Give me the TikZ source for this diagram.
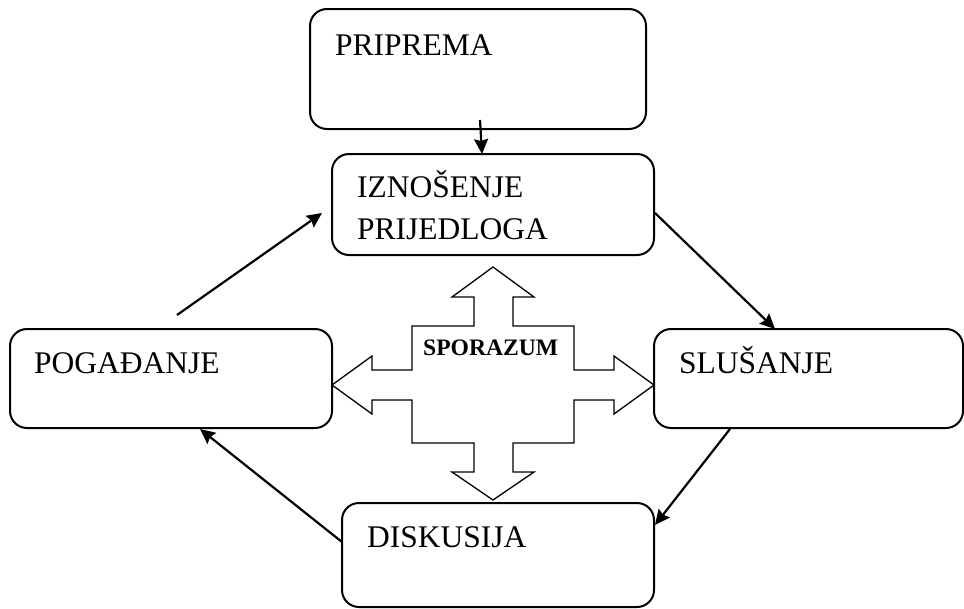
\documentclass[tikz,border=0pt]{standalone}
\usepackage{fontspec}
\setmainfont{Liberation Serif}
\usetikzlibrary{arrows.meta}
\begin{document}
\begin{tikzpicture}[x=1pt,y=-1pt,
  box/.style={draw,line width=2pt,rounded corners=17pt,inner sep=0pt},
  lbl/.style={anchor=base west,inner sep=0pt,font=\fontsize{31.5}{42}\selectfont},
  arr/.style={line width=2.2pt,-{Stealth[length=15pt,width=14pt,inset=2pt]}},
  cross/.style={draw,line width=1.3pt,fill=white}]
\useasboundingbox (0,0) rectangle (964,608);
% boxes
\node[box,minimum width=336pt,minimum height=120pt] (prip) at (478,69) {};
\node[box,minimum width=322pt,minimum height=101pt] (izn) at (493,204.5) {};
\node[box,minimum width=322pt,minimum height=99pt] (pog) at (171,378.5) {};
\node[box,minimum width=309pt,minimum height=99pt] (slu) at (808.5,378.5) {};
\node[box,minimum width=312pt,minimum height=104pt] (dis) at (498,555) {};
% labels
\node[lbl] (tprip) at (335,55) {PRIPREMA};
\node[lbl] (tizn1) at (357,197) {IZNOŠENJE};
\node[lbl] (tizn2) at (357,239) {PRIJEDLOGA};
\node[lbl] (tpog) at (34,373) {POGAĐANJE};
\node[lbl] (tslu) at (679,373) {SLUŠANJE};
\node[lbl] (tdis) at (367,547) {DISKUSIJA};
% cross arrow
\draw[cross] (493,267) -- (534,297) -- (513,297) -- (513,326) -- (574,326) -- (574,370)
  -- (614,370) -- (614,356) -- (654,385) -- (614,414) -- (614,400) -- (574,400)
  -- (574,443) -- (513,443) -- (513,472) -- (534,472) -- (493,500) -- (452,472)
  -- (474,472) -- (474,443) -- (412,443) -- (412,400) -- (372,400) -- (372,414)
  -- (332,385) -- (372,356) -- (372,370) -- (412,370) -- (412,326) -- (474,326)
  -- (474,297) -- (452,297) -- cycle;
\node[anchor=base west,inner sep=0pt,font=\fontsize{23.6}{28}\selectfont\bfseries] (spor) at (423,355) {SPORAZUM};
% connector end points
\coordinate (a1) at (480,120);
\coordinate (a2) at (482,154);
\coordinate (b1) at (177,315);
\coordinate (b2) at (322,213);
\coordinate (c1) at (655,213);
\coordinate (c2) at (775,329);
\coordinate (d1) at (730,429);
\coordinate (d2) at (655,525);
\coordinate (e1) at (342,542);
\coordinate (e2) at (200,429);
\draw[arr] (a1) -- (a2);
\draw[arr] (b1) -- (b2);
\draw[arr] (c1) -- (c2);
\draw[arr] (d1) -- (d2);
\draw[arr] (e1) -- (e2);
\end{tikzpicture}
\end{document}
